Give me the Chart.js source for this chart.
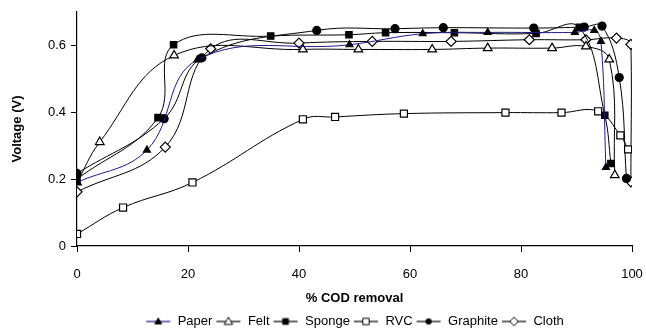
<!DOCTYPE html>
<html>
<head>
<meta charset="utf-8">
<script src="https://cdn.jsdelivr.net/npm/chart.js@4/dist/chart.umd.min.js"></script>
<style>
  html, body { margin: 0; padding: 0; background: #fff; }
  #wrap { width: 646px; height: 333px; }
</style>
</head>
<body>
<div id="wrap"><canvas id="chart1"></canvas></div>
<script>
// valores
var seriesNames = ['Paper', 'Felt', 'Sponge', 'RVC', 'Graphite', 'Cloth'];

var paperX = [0, 12.6, 21.7, 49.1, 62.3, 74, 89.7, 93.2, 94.4, 95.3];
var paperY = [0.19, 0.287, 0.557, 0.602, 0.635, 0.639, 0.639, 0.645, 0.612, 0.235];

var feltX = [0, 4.1, 17.5, 40.7, 50.7, 64, 74, 85.6, 91.7, 95.9, 96.9];
var feltY = [0.19, 0.311, 0.57, 0.588, 0.588, 0.588, 0.592, 0.592, 0.597, 0.558, 0.212];

var spongeX = [0, 14.6, 17.4, 34.9, 49, 55.6, 68, 82.7, 90.5, 95.1, 96.2];
var spongeY = [0.2, 0.384, 0.602, 0.628, 0.632, 0.638, 0.638, 0.636, 0.654, 0.391, 0.247];

var rvcX = [0, 8.3, 20.8, 40.7, 46.5, 58.9, 77.2, 87.3, 93.9, 97.9, 99.3];
var rvcY = [0.036, 0.115, 0.19, 0.379, 0.386, 0.396, 0.399, 0.399, 0.403, 0.331, 0.289];

var graphiteX = [0, 15.7, 22.5, 43.2, 57.3, 66, 82.3, 91.4, 94.6, 97.7, 99];
var graphiteY = [0.217, 0.381, 0.563, 0.645, 0.65, 0.653, 0.652, 0.655, 0.658, 0.504, 0.202];

var clothX = [0, 15.9, 24.1, 40, 53.2, 67.4, 81.5, 91.7, 97.2, 99.8, 99.8];
var clothY = [0.162, 0.296, 0.59, 0.607, 0.612, 0.612, 0.617, 0.617, 0.622, 0.603, 0.192];

var xTicks = [0, 20, 40, 60, 80, 100];
var yTicks = [0, 0.2, 0.4, 0.6];

function pts(xs, ys) {
    return xs.map(function(x, i) { return { x: x, y: ys[i] }; });
}

var estilos = [
    { line: '#1c1c8a', shape: 'triangle', fill: '#000', r: 4 },
    { line: '#000', shape: 'triangle', fill: '#fff', r: 5 },
    { line: '#000', shape: 'rect', fill: '#000', r: 4.5 },
    { line: '#000', shape: 'rect', fill: '#fff', r: 5 },
    { line: '#000', shape: 'circle', fill: '#000', r: 4 },
    { line: '#000', shape: 'rectRot', fill: '#fff', r: 5 }
];

// icono de leyenda: línea corta con marcador
function legendIcon(st) {
    var c = document.createElement('canvas');
    c.width = 26; c.height = 12;
    var g = c.getContext('2d');
    g.strokeStyle = st.line; g.lineWidth = 1.2;
    g.beginPath(); g.moveTo(1, 6); g.lineTo(25, 6); g.stroke();
    g.fillStyle = st.fill; g.strokeStyle = '#000'; g.lineWidth = 1;
    var r = st.r * 0.85;
    g.beginPath();
    if (st.shape === 'triangle') {
        g.moveTo(13, 6 - r); g.lineTo(13 + r, 6 + r * 0.7); g.lineTo(13 - r, 6 + r * 0.7); g.closePath();
    } else if (st.shape === 'rect') {
        g.rect(13 - r * 0.75, 6 - r * 0.75, r * 1.5, r * 1.5);
    } else if (st.shape === 'circle') {
        g.arc(13, 6, r * 0.8, 0, Math.PI * 2);
    } else {
        g.moveTo(13, 6 - r); g.lineTo(13 + r, 6); g.lineTo(13, 6 + r); g.lineTo(13 - r, 6); g.closePath();
    }
    g.fill(); g.stroke();
    return c;
}

var allX = [paperX, feltX, spongeX, rvcX, graphiteX, clothX];
var allY = [paperY, feltY, spongeY, rvcY, graphiteY, clothY];

var datasets = seriesNames.map(function(name, i) {
    var st = estilos[i];
    return {
        label: name,
        data: pts(allX[i], allY[i]),
        borderColor: st.line,
        borderWidth: 1,
        backgroundColor: st.fill,
        pointStyle: st.shape,
        pointRadius: st.r,
        pointBackgroundColor: st.fill,
        pointBorderColor: '#000',
        pointBorderWidth: 1.2,
        tension: 0.4,
        fill: false,
        legendIcon: legendIcon(st)
    };
});

Chart.defaults.font.family = '"Liberation Sans", Arial, sans-serif';
Chart.defaults.color = '#000';

var ctx1 = document.getElementById('chart1').getContext('2d');
var chart1 = new Chart(ctx1, {
    type: 'line',
    data: { datasets: datasets },
    options: {
        responsive: true,
        maintainAspectRatio: false,
        animation: false,
        layout: { padding: { left: 0, right: 14, top: 12, bottom: 0 } },
        plugins: {
            tooltip: { enabled: false },
            legend: {
                position: 'bottom',
                fullSize: false,
                maxHeight: 21,
                labels: {
                    usePointStyle: true,
                    pointStyleWidth: 26,
                    boxHeight: 12,
                    padding: 3,
                    font: { size: 13 },
                    generateLabels: function(chart) {
                        return chart.data.datasets.map(function(ds, i) {
                            return {
                                text: ds.label,
                                pointStyle: ds.legendIcon,
                                fillStyle: '#fff',
                                strokeStyle: '#fff',
                                lineWidth: 0,
                                datasetIndex: i
                            };
                        });
                    }
                }
            }
        },
        scales: {
            x: {
                type: 'linear',
                min: 0,
                max: 100,
                afterBuildTicks: function(axis) {
                    axis.ticks = xTicks.map(function(v) { return { value: v }; });
                },
                afterFit: function(axis) {
                    axis.paddingLeft = 0;
                    axis.paddingRight = 0;
                    axis.height = 66;
                },
                border: { color: '#000', width: 1.2 },
                grid: { drawOnChartArea: false, color: '#000', tickLength: 6 },
                ticks: { font: { size: 13 }, padding: 15, maxRotation: 0 },
                title: { display: true, text: '% COD removal', font: { size: 13, weight: 'bold' }, padding: { top: 6, bottom: 6 } }
            },
            y: {
                min: 0,
                max: 0.7,
                afterBuildTicks: function(axis) {
                    axis.ticks = yTicks.map(function(v) { return { value: v }; });
                },
                afterFit: function(axis) {
                    axis.paddingTop = 0;
                    axis.paddingBottom = 0;
                    axis.width = 77;
                },
                border: { color: '#000', width: 1.2 },
                grid: { drawOnChartArea: false, color: '#000', tickLength: 6 },
                ticks: {
                    font: { size: 13 },
                    padding: 5,
                    callback: function(v) { return v === 0 ? '0' : v.toFixed(1); }
                },
                title: { display: true, text: 'Voltage (V)', font: { size: 13, weight: 'bold' }, padding: { top: 10, bottom: 10 } }
            }
        }
    }
});
</script>
</body>
</html>
